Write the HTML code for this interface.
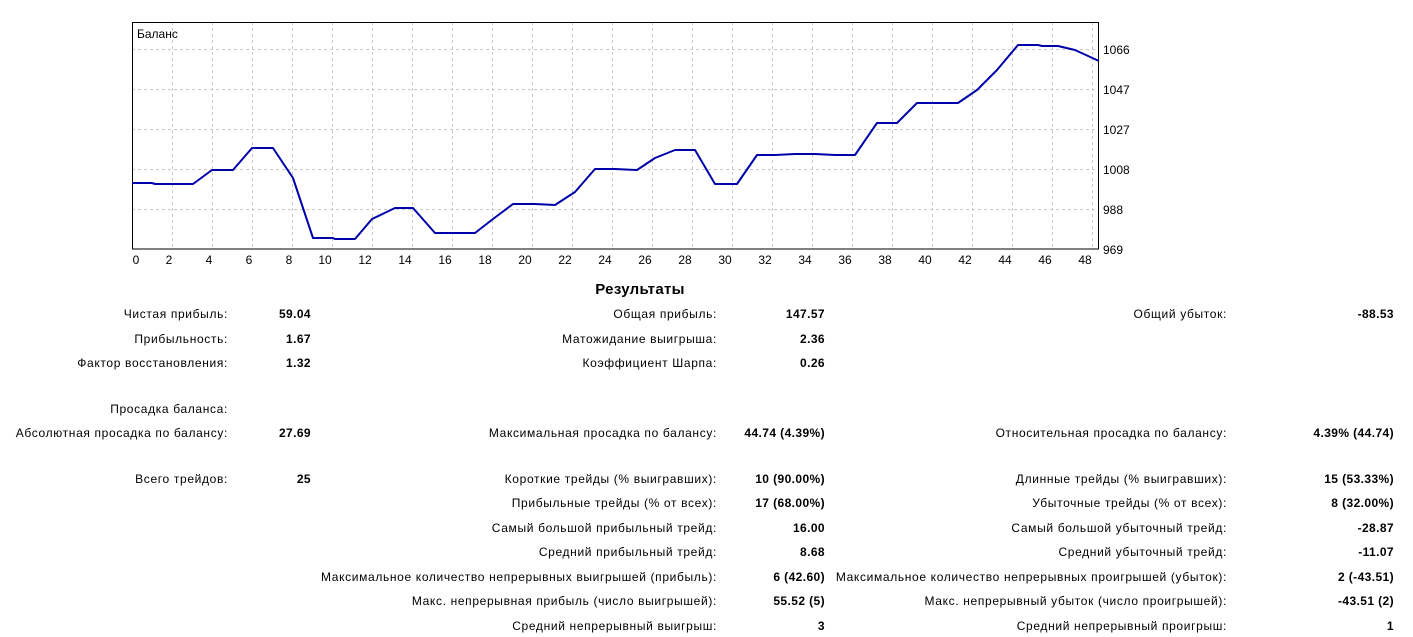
<!DOCTYPE html>
<html><head><meta charset="utf-8"><style>
body{margin:0;width:1413px;height:637px;background:#fff;font-family:"Liberation Sans","DejaVu Sans",sans-serif;font-size:12px;color:#000;position:relative;overflow:hidden}
.t{position:absolute;white-space:nowrap;line-height:14px;letter-spacing:0.65px}
.r{text-align:right}
.b{font-weight:bold;letter-spacing:0.4px}
</style></head><body>
<svg width="1413" height="270" style="position:absolute;left:0;top:0" font-family="Liberation Sans, sans-serif" font-size="12">
<g stroke="#c8c8c8" stroke-dasharray="3,3" stroke-width="1">
<line x1="132" y1="49.5" x2="1099" y2="49.5"/><line x1="132" y1="89.5" x2="1099" y2="89.5"/><line x1="132" y1="129.5" x2="1099" y2="129.5"/><line x1="132" y1="169.5" x2="1099" y2="169.5"/><line x1="132" y1="209.5" x2="1099" y2="209.5"/>
<line x1="172.5" y1="22" x2="172.5" y2="249"/><line x1="212.5" y1="22" x2="212.5" y2="249"/><line x1="252.5" y1="22" x2="252.5" y2="249"/><line x1="292.5" y1="22" x2="292.5" y2="249"/><line x1="332.5" y1="22" x2="332.5" y2="249"/><line x1="372.5" y1="22" x2="372.5" y2="249"/><line x1="412.5" y1="22" x2="412.5" y2="249"/><line x1="452.5" y1="22" x2="452.5" y2="249"/><line x1="492.5" y1="22" x2="492.5" y2="249"/><line x1="532.5" y1="22" x2="532.5" y2="249"/><line x1="572.5" y1="22" x2="572.5" y2="249"/><line x1="612.5" y1="22" x2="612.5" y2="249"/><line x1="652.5" y1="22" x2="652.5" y2="249"/><line x1="692.5" y1="22" x2="692.5" y2="249"/><line x1="732.5" y1="22" x2="732.5" y2="249"/><line x1="772.5" y1="22" x2="772.5" y2="249"/><line x1="812.5" y1="22" x2="812.5" y2="249"/><line x1="852.5" y1="22" x2="852.5" y2="249"/><line x1="892.5" y1="22" x2="892.5" y2="249"/><line x1="932.5" y1="22" x2="932.5" y2="249"/><line x1="972.5" y1="22" x2="972.5" y2="249"/><line x1="1012.5" y1="22" x2="1012.5" y2="249"/><line x1="1052.5" y1="22" x2="1052.5" y2="249"/><line x1="1092.5" y1="22" x2="1092.5" y2="249"/>
</g>
<rect x="132.5" y="22.5" width="966" height="226.5" fill="none" stroke="#000"/>
<text x="137" y="38">Баланс</text>
<polyline fill="none" stroke="#0000aa" stroke-width="2" stroke-linejoin="round" points="132,183 152,183 155,184 193,184 212,170 233,170 252,148 273,148 293,178 313,238 333,238 335,239 355,239 372,219 395,208 413,208 435,233 475,233 493,219 513,204 535,204 555,205 575,192 595,169 615,169 637,170 655,158 675,150 695,150 715,184 737,184 757,155 775,155 795,154 815,154 835,155 855,155 877,123 897,123 917,103 937,103 958,103 977,90 997,70 1018,45 1038,45 1042,46 1058,46 1075,50 1099,61"/>
<g>
<text x="1103" y="54">1066</text><text x="1103" y="94">1047</text><text x="1103" y="134">1027</text><text x="1103" y="174">1008</text><text x="1103" y="214">988</text><text x="1103" y="254">969</text>
</g>
<g text-anchor="middle">
<text x="136" y="264">0</text><text x="169" y="264">2</text><text x="209" y="264">4</text><text x="249" y="264">6</text><text x="289" y="264">8</text><text x="325" y="264">10</text><text x="365" y="264">12</text><text x="405" y="264">14</text><text x="445" y="264">16</text><text x="485" y="264">18</text><text x="525" y="264">20</text><text x="565" y="264">22</text><text x="605" y="264">24</text><text x="645" y="264">26</text><text x="685" y="264">28</text><text x="725" y="264">30</text><text x="765" y="264">32</text><text x="805" y="264">34</text><text x="845" y="264">36</text><text x="885" y="264">38</text><text x="925" y="264">40</text><text x="965" y="264">42</text><text x="1005" y="264">44</text><text x="1045" y="264">46</text><text x="1085" y="264">48</text>
</g>
</svg>
<div class="t b" style="left:540px;top:281px;width:200px;text-align:center;font-size:15px;line-height:18px;letter-spacing:0.3px">Результаты</div>

<div class="t r" style="right:1185px;top:307px">Чистая прибыль:</div><div class="t r b" style="right:1102px;top:307px">59.04</div>
<div class="t r" style="right:696px;top:307px">Общая прибыль:</div><div class="t r b" style="right:588px;top:307px">147.57</div>
<div class="t r" style="right:186px;top:307px">Общий убыток:</div><div class="t r b" style="right:19px;top:307px">-88.53</div>

<div class="t r" style="right:1185px;top:332px">Прибыльность:</div><div class="t r b" style="right:1102px;top:332px">1.67</div>
<div class="t r" style="right:696px;top:332px">Матожидание выигрыша:</div><div class="t r b" style="right:588px;top:332px">2.36</div>

<div class="t r" style="right:1185px;top:356px">Фактор восстановления:</div><div class="t r b" style="right:1102px;top:356px">1.32</div>
<div class="t r" style="right:696px;top:356px">Коэффициент Шарпа:</div><div class="t r b" style="right:588px;top:356px">0.26</div>

<div class="t r" style="right:1185px;top:402px">Просадка баланса:</div>

<div class="t r" style="right:1185px;top:426px">Абсолютная просадка по балансу:</div><div class="t r b" style="right:1102px;top:426px">27.69</div>
<div class="t r" style="right:696px;top:426px">Максимальная просадка по балансу:</div><div class="t r b" style="right:588px;top:426px">44.74 (4.39%)</div>
<div class="t r" style="right:186px;top:426px">Относительная просадка по балансу:</div><div class="t r b" style="right:19px;top:426px">4.39% (44.74)</div>

<div class="t r" style="right:1185px;top:472px">Всего трейдов:</div><div class="t r b" style="right:1102px;top:472px">25</div>
<div class="t r" style="right:696px;top:472px">Короткие трейды (% выигравших):</div><div class="t r b" style="right:588px;top:472px">10 (90.00%)</div>
<div class="t r" style="right:186px;top:472px">Длинные трейды (% выигравших):</div><div class="t r b" style="right:19px;top:472px">15 (53.33%)</div>

<div class="t r" style="right:696px;top:496px">Прибыльные трейды (% от всех):</div><div class="t r b" style="right:588px;top:496px">17 (68.00%)</div>
<div class="t r" style="right:186px;top:496px">Убыточные трейды (% от всех):</div><div class="t r b" style="right:19px;top:496px">8 (32.00%)</div>

<div class="t r" style="right:696px;top:521px">Самый большой прибыльный трейд:</div><div class="t r b" style="right:588px;top:521px">16.00</div>
<div class="t r" style="right:186px;top:521px">Самый большой убыточный трейд:</div><div class="t r b" style="right:19px;top:521px">-28.87</div>

<div class="t r" style="right:696px;top:545px">Средний прибыльный трейд:</div><div class="t r b" style="right:588px;top:545px">8.68</div>
<div class="t r" style="right:186px;top:545px">Средний убыточный трейд:</div><div class="t r b" style="right:19px;top:545px">-11.07</div>

<div class="t r" style="right:696px;top:570px">Максимальное количество непрерывных выигрышей (прибыль):</div><div class="t r b" style="right:588px;top:570px">6 (42.60)</div>
<div class="t r" style="right:186px;top:570px">Максимальное количество непрерывных проигрышей (убыток):</div><div class="t r b" style="right:19px;top:570px">2 (-43.51)</div>

<div class="t r" style="right:696px;top:594px">Макс. непрерывная прибыль (число выигрышей):</div><div class="t r b" style="right:588px;top:594px">55.52 (5)</div>
<div class="t r" style="right:186px;top:594px">Макс. непрерывный убыток (число проигрышей):</div><div class="t r b" style="right:19px;top:594px">-43.51 (2)</div>

<div class="t r" style="right:696px;top:619px">Средний непрерывный выигрыш:</div><div class="t r b" style="right:588px;top:619px">3</div>
<div class="t r" style="right:186px;top:619px">Средний непрерывный проигрыш:</div><div class="t r b" style="right:19px;top:619px">1</div>
</body></html>
